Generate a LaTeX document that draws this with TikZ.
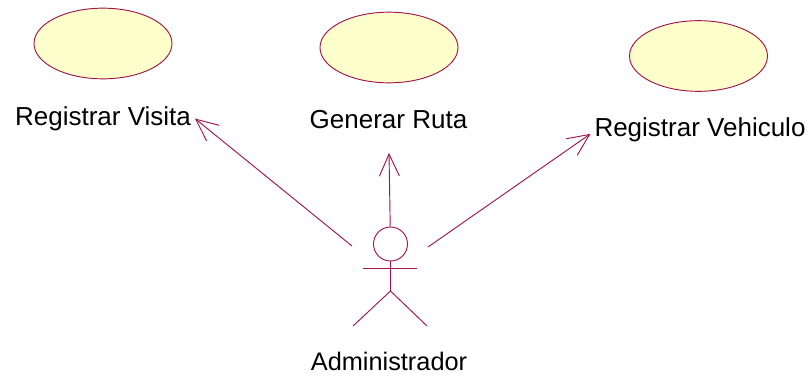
\documentclass[tikz,border=0pt]{standalone}
\usepackage{fontspec}
\setmainfont{Liberation Sans}
\usetikzlibrary{arrows.meta,shapes.geometric}
\definecolor{roseline}{RGB}{160,20,75}
\definecolor{rosefill}{RGB}{255,255,204}
\tikzset{
  usecase/.style={draw=roseline,fill=rosefill,ellipse,line width=0.7pt,minimum width=103.5pt,minimum height=53pt,inner sep=0pt},
  caselabel/.style={inner sep=0pt,outer sep=3pt,font=\fontsize{19.5pt}{22pt}\selectfont,text height=14.5pt,text depth=4.5pt},
  assoc/.style={draw=roseline,line width=0.7pt,-{Straight Barb[length=16.5pt,width=15pt]}},
  limb/.style={draw=roseline,line width=0.7pt}
}
\begin{document}
\begin{tikzpicture}[x=0.75pt,y=-0.75pt]
            \useasboundingbox (0,0) rectangle (811,379);

            % use cases
            \node[usecase] (visita) at (103,43.5) {};
            \node[usecase] (ruta) at (389,47.5) {};
            \node[usecase] (vehiculo) at (698.5,56) {};
            \node[caselabel] (lblvisita) at (103,118.5) {Registrar Visita};
            \node[caselabel] (lblruta) at (388.5,122) {Generar Ruta};
            \node[caselabel] (lblvehiculo) at (700,130) {Registrar Vehiculo};

            % actor
            \node[circle,draw=roseline,line width=0.7pt,minimum size=25.5pt,inner sep=0pt] (head) at (390.5,244) {};
            \coordinate (hip) at (390.5,291);
            \coordinate (handl) at (363,268);
            \coordinate (handr) at (417,268);
            \coordinate (footl) at (353,326);
            \coordinate (footr) at (427,326);
            \draw[limb] (head) -- (hip);
            \draw[limb] (handl) -- (handr);
            \draw[limb] (footl) -- (hip) -- (footr);
            \node[caselabel,font=\fontsize{19pt}{22pt}\selectfont] (admin) at (389,364) {Administrador};

            % associations
            \coordinate (startl) at (352,246);
            \coordinate (startr) at (428,247);
            \draw[assoc] (startl) -- (lblvisita.east);
            \draw[assoc,shorten >=10.7pt] (head) -- (lblruta);
            \draw[assoc] (startr) -- (lblvehiculo.182.6);
\end{tikzpicture}
\end{document}
